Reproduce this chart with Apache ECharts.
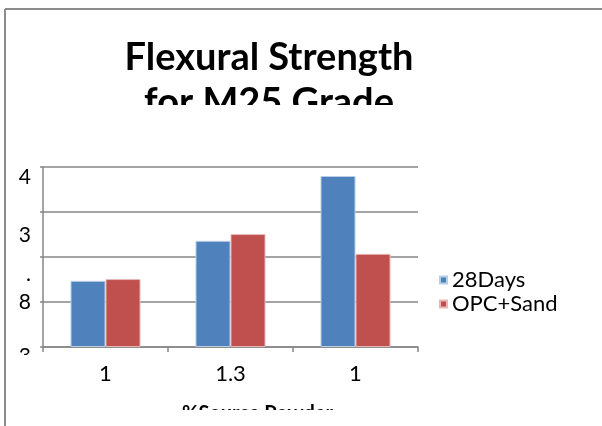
<!DOCTYPE html>
<html>
<head>
<meta charset="utf-8">
<script src="https://cdn.jsdelivr.net/npm/echarts@6/dist/echarts.min.js"></script>
<style>
html,body{margin:0;padding:0;background:#fff;}
#chart{width:602px;height:426px;}
</style>
</head>
<body>
<div id="chart"></div>
<script>
const categories = ['1', '1.3', '1'];
const days28 = [1.47, 2.36, 3.80];
const opcSand = [1.51, 2.51, 2.07];
const yTickLabels = ['3', '8', '.', '3', '4'];
const seriesNames = ['28Days', 'OPC+Sand'];
const titleText = 'Flexural Strength\nfor M25 Grade';
const xAxisTitle = '%Source Powder';

const FONT = 'Lato, "Open Sans", sans-serif';
const chart = echarts.init(document.getElementById('chart'), null, {renderer: 'canvas'});

const yShift = [18, 0, 34, 46, 20];
const rich = {};
yTickLabels.forEach((t, i) => {
  rich['r' + i] = {fontSize: 21, fontFamily: FONT, color: '#000', padding: [yShift[i], 0, 0, 0]};
});

chart.setOption({
  animation: false,
  backgroundColor: '#fff',
  title: {
    text: titleText,
    left: 264,
    top: 30,
    textAlign: 'center',
    textStyle: {fontFamily: FONT, fontWeight: 'bold', fontSize: 38, lineHeight: 45, color: '#000'}
  },
  legend: {
    orient: 'vertical',
    left: 434,
    top: 264,
    itemWidth: 7,
    itemHeight: 7,
    itemGap: 2,
    icon: 'rect',
    textStyle: {fontFamily: FONT, fontSize: 22, color: '#000', padding: [10, 0, 0, 0]},
    data: seriesNames
  },
  grid: {left: 43, right: 184, top: 167, bottom: 79},
  xAxis: {
    type: 'category',
    data: categories,
    axisLine: {lineStyle: {color: '#868686', width: 1.5}},
    axisTick: {show: true, length: 5, lineStyle: {color: '#868686', width: 1.5}},
    axisLabel: {fontFamily: FONT, fontSize: 22, color: '#000', margin: 16}
  },
  yAxis: {
    type: 'value',
    min: 0,
    max: 4,
    interval: 1,
    axisLine: {show: true, lineStyle: {color: '#868686', width: 1.5}},
    axisTick: {show: true, length: 3, lineStyle: {color: '#868686', width: 1.5}},
    splitLine: {lineStyle: {color: '#868686', width: 1.5}},
    axisLabel: {
      margin: 12,
      formatter: (v, i) => '{r' + i + '|' + yTickLabels[i] + '}',
      rich: rich
    }
  },
  series: [
    {name: seriesNames[0], type: 'bar', data: days28, barGap: '0%', barCategoryGap: '44%',
     itemStyle: {color: '#4F81BD', borderColor: '#B9CDE5', borderWidth: 1}},
    {name: seriesNames[1], type: 'bar', data: opcSand, barGap: '0%', barCategoryGap: '44%',
     itemStyle: {color: '#C0504D', borderColor: '#E6B9B8', borderWidth: 1}}
  ],
  graphic: [
    {type: 'text', left: 182, top: 404, z: 10,
     style: {text: xAxisTitle, fontFamily: FONT, fontWeight: 'bold', fontSize: 20, fill: '#000'}},
    {type: 'rect', shape: {x: 7, y: 105, width: 595, height: 28}, style: {fill: '#fff'}, z: 50},
    {type: 'rect', shape: {x: 7, y: 410, width: 595, height: 16}, style: {fill: '#fff'}, z: 50},
    {type: 'rect', shape: {x: 7, y: 355, width: 33, height: 12}, style: {fill: '#fff'}, z: 50},
    {type: 'line', shape: {x1: 5, y1: 9, x2: 602, y2: 9}, style: {stroke: '#8c8c8c', lineWidth: 2}, z: 60},
    {type: 'line', shape: {x1: 5, y1: 9, x2: 5, y2: 426}, style: {stroke: '#8c8c8c', lineWidth: 2}, z: 60}
  ]
});
</script>
</body>
</html>
